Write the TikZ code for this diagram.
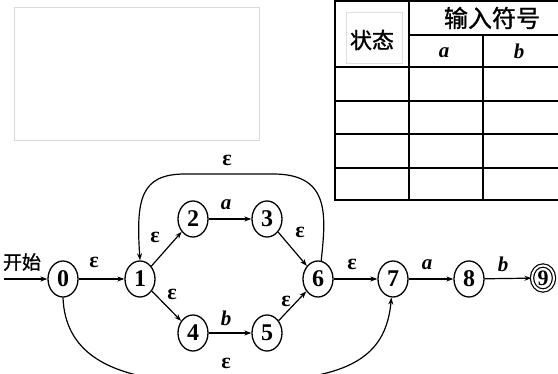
\documentclass[tikz,border=0pt]{standalone}
\usepackage{fontspec}
\setmainfont{Liberation Serif}
\newfontfamily\cjk[FakeBold=1.2]{Noto Sans CJK SC}
\usetikzlibrary{arrows.meta,shapes.geometric}
\begin{document}
\begin{tikzpicture}[x=1pt,y=-1pt,
  state/.style={ellipse,draw,line width=1.3pt,minimum width=30pt,minimum height=36pt,
    inner sep=0pt,font=\fontsize{24}{24}\selectfont\bfseries},
  accept/.style={state,double,double distance=2pt,line width=1.2pt,
    minimum width=22pt,minimum height=25pt,font=\fontsize{22}{22}\selectfont\bfseries},
  edge/.style={line width=1.2pt,-{Stealth[length=7pt,width=5pt]}},
  lab/.style={inner sep=0pt,font=\fontsize{22}{22}\selectfont\bfseries},
  sym/.style={inner sep=0pt,font=\fontsize{21}{21}\selectfont\bfseries\itshape},
  tline/.style={line width=1.4pt},
  thick box/.style={line width=2.2pt}]
\useasboundingbox (0,0) rectangle (558,374);
\clip (0,0) rectangle (558,374);

% empty frame in the upper left
\draw[gray!30,line width=0.8pt] (14,7) rectangle (259,140);

% transition table
\draw[tline] (409,35) -- (558,35);
\foreach \y in {67,101,134,168} \draw[tline] (335,\y) -- (558,\y);
\draw[tline] (409,1) -- (409,200);
\draw[tline] (483,35) -- (483,200);
\draw[thick box] (558,1) -- (335,1) -- (335,200) -- (558,200);
\draw[gray!25,line width=0.6pt] (346,12) rectangle (402,63);
\node (hstate) at (372,40) {\cjk\fontsize{22}{22}\selectfont 状态};
\node (hinput) at (492,18) {\cjk\fontsize{24}{24}\selectfont 输入符号};
\node[sym] (ha) at (444,53) {a};
\node[sym] (hb) at (519,51) {b};

% automaton states
\node[state] (n0) at (63,279) {0};
\node[state] (n1) at (140,279) {1};
\node[state] (n2) at (193,219) {2};
\node[state] (n3) at (267,219) {3};
\node[state] (n4) at (193,333) {4};
\node[state] (n5) at (267,333) {5};
\node[state] (n6) at (318,279) {6};
\node[state] (n7) at (393,279) {7};
\node[state] (n8) at (469,279) {8};
\node[accept] (n9) at (543,278) {9};

% start arrow
\coordinate (s) at (4,279);
\node[inner sep=0pt] (start) at (22,262) {\cjk\fontsize{19}{19}\selectfont 开始};
\draw[edge] (s) -- (n0);

% transitions
\draw[edge] (n0) -- (n1);
\draw[edge] (n1) -- (n2);
\draw[edge] (n2) -- (n3);
\draw[edge] (n3) -- (n6);
\draw[edge] (n1) -- (n4);
\draw[edge] (n4) -- (n5);
\draw[edge] (n5) -- (n6);
\draw[edge] (n6) -- (n7);
\draw[edge] (n7) -- (n8);
\draw[edge] (n8) -- (n9);
\draw[edge] (n6.80) .. controls (326,215) and (330,175) .. (275,174)
  -- (185,174) .. controls (140,174) and (136,200) .. (n1.north);
\draw[edge] (n0.south) .. controls (65,350) and (105,378) .. (190,382)
  .. controls (330,385) and (385,370) .. (n7.265);

% transition labels
\node[lab] (e01) at (94,262) {ε};
\node[lab] (e12) at (155,237) {ε};
\node[sym] (a23) at (226,205) {a};
\node[lab] (e36) at (300,232) {ε};
\node[lab] (e14) at (172,294) {ε};
\node[sym] (b45) at (226,318) {b};
\node[lab] (e56) at (286,301) {ε};
\node[lab] (e61) at (227,160) {ε};
\node[lab] (e07) at (226,363) {ε};
\node[lab] (e67) at (352,264) {ε};
\node[sym] (a78) at (427,265) {a};
\node[sym] (b89) at (503,264) {b};
\end{tikzpicture}
\end{document}
